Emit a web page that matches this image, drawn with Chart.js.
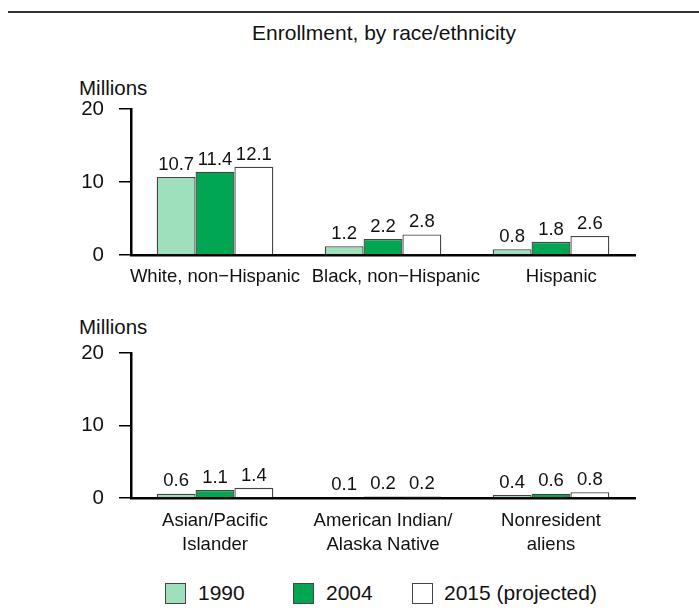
<!DOCTYPE html>
<html>
<head>
<meta charset="utf-8">
<script src="https://cdn.jsdelivr.net/npm/chart.js@4.4.1/dist/chart.umd.min.js"></script>
<style>
  body { margin: 0; background: #fff; font-family: "Liberation Sans", Arial, sans-serif; color: #111; }
  #page { position: relative; width: 699px; height: 616px; overflow: hidden; }
  .rule { position: absolute; left: 8px; right: 0; top: 11px; border-top: 2px solid #333; }
  .title { position: absolute; left: 0; width: 768px; top: 21px; text-align: center; font-size: 21px; }
  .unit { position: absolute; left: 79px; font-size: 20.5px; line-height: 24px; }
  .box { position: absolute; width: 19px; height: 19px; border: 1px solid #444; top: 583px; }
  .lab { position: absolute; top: 581px; font-size: 21px; line-height: 24px; white-space: nowrap; }
  .wrap { position: absolute; left: 0; width: 699px; }
</style>
</head>
<body>
<div id="page">
  <div class="rule"></div>
  <div class="title">Enrollment, by race/ethnicity</div>

  <div class="unit" style="top:76px">Millions</div>
  <div class="wrap" style="top:0;height:300px"><canvas id="topChart" width="699" height="300"></canvas></div>

  <div class="unit" style="top:315px">Millions</div>
  <div class="wrap" style="top:300px;height:270px"><canvas id="bottomChart" width="699" height="270"></canvas></div>

  <div class="box" style="left:165px;background:#9edfbc"></div>
  <div class="lab" style="left:198px">1990</div>
  <div class="box" style="left:293px;background:#00a651"></div>
  <div class="lab" style="left:326px">2004</div>
  <div class="box" style="left:412px;background:#fff"></div>
  <div class="lab" style="left:444px">2015 (projected)</div>
</div>

<script>
// categories
const topCategories = ['White, non\u2212Hispanic', 'Black, non\u2212Hispanic', 'Hispanic']
const bottomCategories = [['Asian/Pacific', 'Islander'], ['American Indian/', 'Alaska Native'], ['Nonresident', 'aliens']]
const seriesNames = ['1990', '2004', '2015 (projected)']

// enrollment in millions
const top1990 = [10.7, 1.2, 0.8]
const top2004 = [11.4, 2.2, 1.8]
const top2015 = [12.1, 2.8, 2.6]
const bottom1990 = [0.6, 0.1, 0.4]
const bottom2004 = [1.1, 0.2, 0.6]
const bottom2015 = [1.4, 0.2, 0.8]

const yTicks = [0, 10, 20]

const fills = ['#9edfbc', '#00a651', '#ffffff']
const FONT = '"Liberation Sans", Arial, sans-serif'

// numbers above every bar
const valueLabels = {
  id: 'valueLabels',
  afterDatasetsDraw(chart) {
    const ctx = chart.ctx
    ctx.save()
    ctx.font = '18.5px ' + FONT
    ctx.fillStyle = '#111'
    ctx.textAlign = 'center'
    ctx.textBaseline = 'bottom'
    chart.data.datasets.forEach((ds, i) => {
      chart.getDatasetMeta(i).data.forEach((bar, j) => {
        ctx.fillText(ds.data[j].toFixed(1), bar.x, bar.y - 3)
      })
    })
    ctx.restore()
  }
}

function makeChart(id, labels, series, padTop, xHeight, xPad, labelShift) {
  return new Chart(document.getElementById(id), {
    type: 'bar',
    data: {
      labels: labels,
      datasets: series.map((d, i) => ({
        label: seriesNames[i],
        data: d,
        backgroundColor: fills[i],
        borderColor: '#444',
        borderWidth: 1.3,
        barPercentage: 1,
        categoryPercentage: 0.694,
      })),
    },
    options: {
      responsive: false,
      animation: false,
      layout: { padding: { top: padTop, right: 64, left: 0, bottom: 0 } },
      plugins: { legend: { display: false }, tooltip: { enabled: false } },
      scales: {
        x: {
          grid: { display: false },
          border: { display: true, color: '#000', width: 2.5 },
          ticks: {
            color: '#111',
            font: { family: FONT, size: 18.5, lineHeight: 1.3 },
            padding: xPad,
            maxRotation: 0,
            autoSkip: false,
            // the source nudges some labels right of their bars
            callback: function (v, i) {
              const l = this.getLabelForValue(v)
              return labelShift ? ' '.repeat(labelShift[i]) + l : l
            },
          },
          afterFit: s => { s.height = xHeight },
        },
        y: {
          min: 0,
          max: 20,
          afterBuildTicks: s => { s.ticks = yTicks.map(v => ({ value: v })) },
          grid: { drawOnChartArea: false, drawTicks: true, tickLength: 12, color: '#000', lineWidth: 1.5 },
          border: { display: true, color: '#000', width: 2.5 },
          ticks: { color: '#111', font: { family: FONT, size: 20.5 }, padding: 15 },
          afterFit: s => { s.width = 131 },
        },
      },
    },
    plugins: [valueLabels],
  })
}

makeChart('topChart', topCategories, [top1990, top2004, top2015], 109, 45, 2, [0, 5, 4])
makeChart('bottomChart', bottomCategories, [bottom1990, bottom2004, bottom2015], 53, 72, 3, null)
</script>
</body>
</html>
